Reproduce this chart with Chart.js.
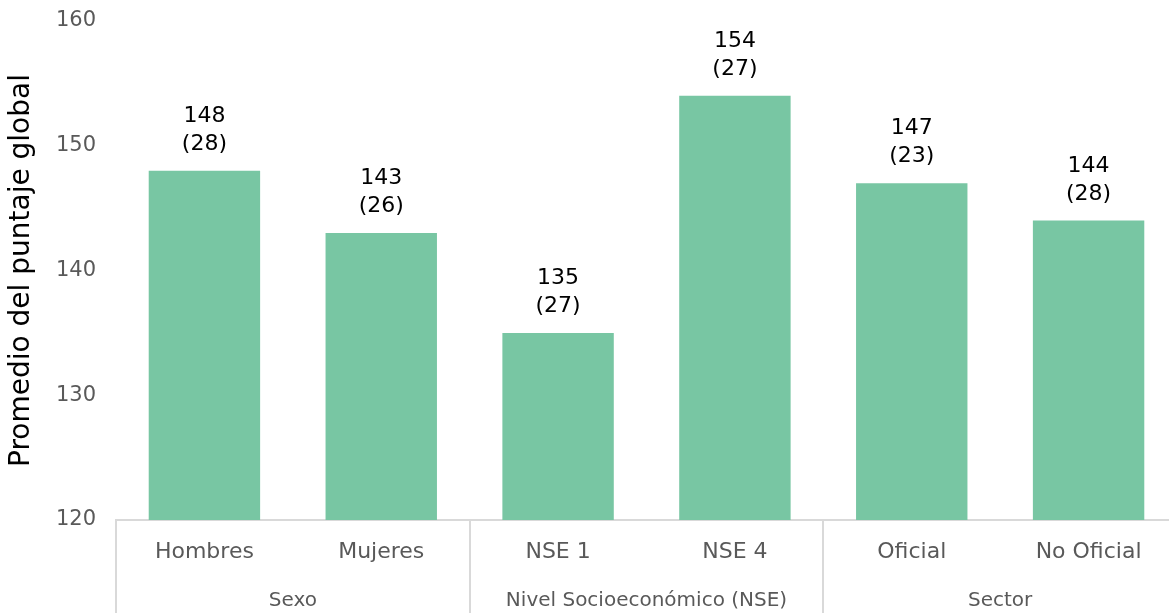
<!DOCTYPE html>
<html>
<head>
<meta charset="utf-8">
<script src="https://cdn.jsdelivr.net/npm/chart.js@4"></script>
<style>
  html, body { margin: 0; padding: 0; background: #fff; overflow: hidden; }
  #wrap { width: 1177px; height: 613px; }
</style>
</head>
<body>
<div id="wrap"><canvas id="chart"></canvas></div>
<script>
// datos
const categorias = ['Hombres', 'Mujeres', 'NSE 1', 'NSE 4', 'Oficial', 'No Oficial'];
const promedios = [148, 143, 135, 154, 147, 144];
const desviaciones = [28, 26, 27, 27, 23, 28];
const grupos = ['Sexo', 'Nivel Socioeconómico (NSE)', 'Sector'];
const grupoTamano = [2, 2, 2];
const ticksY = [120, 130, 140, 150, 160];

const fuente = "'DejaVu Sans', sans-serif";

// etiquetas encima de las barras: valor y (desviacion)
const etiquetasBarras = {
    id: 'etiquetasBarras',
    afterDatasetsDraw(chart) {
        const ctx = chart.ctx;
        const meta = chart.getDatasetMeta(0);
        ctx.save();
        ctx.fillStyle = '#000';
        ctx.font = '22px ' + fuente;
        ctx.textAlign = 'center';
        ctx.textBaseline = 'alphabetic';
        meta.data.forEach((bar, i) => {
            ctx.fillText(String(promedios[i]), bar.x, bar.y - 49);
            ctx.fillText('(' + desviaciones[i] + ')', bar.x, bar.y - 21);
        });
        ctx.restore();
    }
};

// lineas separadoras y nombres de grupo debajo del eje x
const gruposEje = {
    id: 'gruposEje',
    afterDraw(chart) {
        const ctx = chart.ctx;
        const x = chart.scales.x;
        const top = x.top;
        const bottom = chart.height;
        ctx.save();
        ctx.strokeStyle = '#d9d9d9';
        ctx.lineWidth = 2;
        let inicio = 0;
        const bordes = [-0.5];
        grupoTamano.forEach(n => { inicio += n; bordes.push(inicio - 0.5); });
        bordes.forEach(b => {
            const px = Math.round(x.getPixelForValue(b));
            ctx.beginPath();
            ctx.moveTo(px, top);
            ctx.lineTo(px, bottom);
            ctx.stroke();
        });
        ctx.fillStyle = '#595959';
        ctx.font = '20px ' + fuente;
        ctx.textAlign = 'center';
        ctx.textBaseline = 'middle';
        grupos.forEach((g, i) => {
            const a = x.getPixelForValue(bordes[i]);
            const b = x.getPixelForValue(bordes[i + 1]);
            ctx.fillText(g, (a + b) / 2, 601);
        });
        ctx.restore();
    }
};

const ctx = document.getElementById('chart').getContext('2d');
new Chart(ctx, {
    type: 'bar',
    data: {
        labels: categorias,
        datasets: [{
            data: promedios,
            backgroundColor: '#78c6a3',
            categoryPercentage: 1,
            barPercentage: 0.63
        }]
    },
    options: {
        responsive: true,
        maintainAspectRatio: false,
        animation: false,
        layout: { padding: { top: 21, right: 0, left: 0, bottom: 0 } },
        plugins: {
            legend: { display: false },
            tooltip: { enabled: false }
        },
        scales: {
            x: {
                grid: { display: false },
                border: { display: true, color: '#d9d9d9', width: 2 },
                ticks: {
                    color: '#595959',
                    font: { family: fuente, size: 22 },
                    padding: 11,
                    maxRotation: 0
                },
                afterFit(scale) { scale.height = 93; }
            },
            y: {
                min: 120,
                max: 160,
                grid: { display: false, drawTicks: false },
                border: { display: false },
                afterBuildTicks(scale) { scale.ticks = ticksY.map(v => ({ value: v })); },
                ticks: {
                    color: '#595959',
                    font: { family: fuente, size: 21 },
                    padding: 20
                },
                title: {
                    display: true,
                    text: 'Promedio del puntaje global',
                    color: '#000',
                    font: { family: fuente, size: 28 },
                    padding: { top: 5, bottom: 0 }
                },
                afterFit(scale) {
                    scale.width = 116;
                    scale.paddingTop = 0;
                    scale.paddingBottom = 0;
                }
            }
        }
    },
    plugins: [etiquetasBarras, gruposEje]
});
</script>
</body>
</html>
